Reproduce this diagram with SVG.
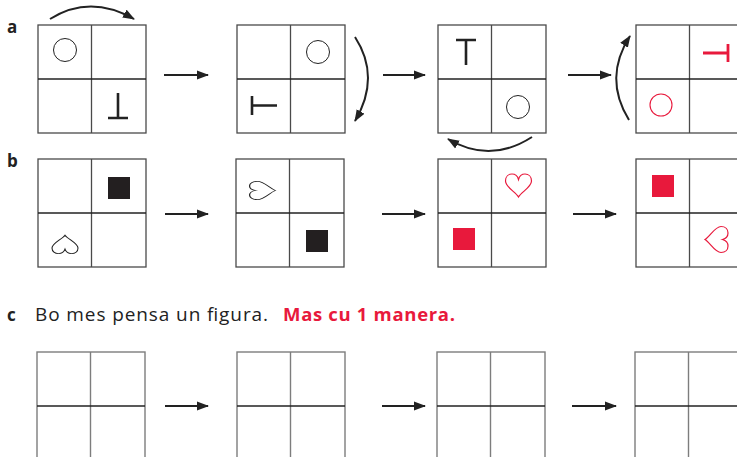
<svg xmlns="http://www.w3.org/2000/svg" xmlns:xlink="http://www.w3.org/1999/xlink" width="737" height="457" viewBox="0 0 737 457">
<style>
.g{fill:none;stroke:#4a4a4a;stroke-width:1.3}
.gm{fill:none;stroke:#222;stroke-width:1.3}
.gc{fill:none;stroke:#7d7d7d;stroke-width:1.4}
.ar{fill:none;stroke:#222;stroke-width:2}
.fig{fill:none;stroke:#222;stroke-width:2.6;stroke-linecap:butt}
.figr{fill:none;stroke:#e8193c;stroke-width:2.8}
.circ{fill:none;stroke:#222;stroke-width:1}
.circr{fill:none;stroke:#e8193c;stroke-width:1.1}
.hk{fill:none;stroke:#222;stroke-width:1.1}
.hr{fill:none;stroke:#e8193c;stroke-width:1.2}
.lab{font-family:"Open Sans","Noto Sans","Liberation Sans",sans-serif;font-weight:bold;font-size:17px;fill:#222}
.txt{font-family:"Open Sans","Noto Sans","Liberation Sans",sans-serif;font-size:19px;fill:#222}
.red{font-family:"Open Sans","Noto Sans","Liberation Sans",sans-serif;font-weight:bold;font-size:18.5px;fill:#e8193c}
</style>
<defs>
<g id="grid">
<rect class="g" x="0" y="0" width="108" height="108"/>
<line class="g" x1="53.5" y1="0" x2="53.5" y2="108"/>
<line class="gm" x1="0" y1="54" x2="108" y2="54"/>
</g>
<g id="gridc">
<rect class="gc" x="0" y="0" width="108" height="120"/>
<line class="gc" x1="53.5" y1="0" x2="53.5" y2="120"/>
<line class="gm" x1="0" y1="54" x2="108" y2="54"/>
</g>
<path id="heart" d="M0,11 C-3,6 -13,1 -13,-5 C-13,-9.5 -10,-12 -6.5,-12 C-3,-12 -0.8,-9.5 0,-6.5 C0.8,-9.5 3,-12 6.5,-12 C10,-12 13,-9.5 13,-5 C13,1 3,6 0,11 Z"/>
<marker id="ah" markerUnits="userSpaceOnUse" markerWidth="12" markerHeight="10" refX="11" refY="4.5" orient="auto" viewBox="0 0 12 9">
<path d="M0,0 L12,4.5 L0,9 Z" fill="#222"/>
</marker>
</defs>

<text class="lab" x="7" y="33">a</text>
<text class="lab" x="7" y="167">b</text>
<text class="lab" x="7" y="321">c</text>
<text class="txt" x="35" y="321" textLength="233" lengthAdjust="spacing">Bo mes pensa un figura.</text>
<text class="red" x="283" y="321" textLength="172" lengthAdjust="spacing">Mas cu 1 manera.</text>

<g id="a1">
<use xlink:href="#grid" x="38" y="25"/>
<circle class="circ" cx="65" cy="50" r="11.5"/>
<path class="fig" d="M118,93 V118 M108,118 H128"/>
</g>
<g id="a2">
<use xlink:href="#grid" x="237" y="25"/>
<circle class="circ" cx="318" cy="52" r="11.5"/>
<path class="fig" d="M252,96 V115 M252,105.5 H277"/>
</g>
<g id="a3">
<use xlink:href="#grid" x="438" y="25"/>
<path class="fig" d="M456,40 H476 M466,40 V65"/>
<circle class="circ" cx="518" cy="107" r="11.5"/>
</g>
<g id="a4">
<use xlink:href="#grid" x="636" y="25"/>
<path class="figr" d="M703,53 H728 M728,44 V62"/>
<circle class="circr" cx="661" cy="105" r="11"/>
</g>

<g id="b1">
<use xlink:href="#grid" x="38" y="159"/>
<rect x="108" y="177" width="22" height="22" fill="#231f20"/>
<use xlink:href="#heart" class="hk" transform="translate(65,244) scale(1,0.8) rotate(180)"/>
</g>
<g id="b2">
<use xlink:href="#grid" x="236" y="159"/>
<use xlink:href="#heart" class="hk" transform="translate(263,190.5) scale(1.12,0.7) rotate(-90)"/>
<rect x="306" y="230" width="22" height="22" fill="#231f20"/>
</g>
<g id="b3">
<use xlink:href="#grid" x="438" y="159"/>
<use xlink:href="#heart" class="hr" transform="translate(518.5,186)"/>
<rect x="453" y="228" width="22" height="22" fill="#e8193c"/>
</g>
<g id="b4">
<use xlink:href="#grid" x="636" y="159"/>
<rect x="652" y="175" width="22" height="22" fill="#e8193c"/>
<use xlink:href="#heart" class="hr" transform="translate(716,239.5) rotate(90)"/>
</g>

<g id="c1"><use xlink:href="#gridc" x="37" y="352"/></g>
<g id="c2"><use xlink:href="#gridc" x="237" y="352"/></g>
<g id="c3"><use xlink:href="#gridc" x="437" y="352"/></g>
<g id="c4"><use xlink:href="#gridc" x="635" y="352"/></g>

<g id="connectors">
<line class="ar" x1="164" y1="75" x2="208" y2="75" marker-end="url(#ah)"/>
<line class="ar" x1="383" y1="75" x2="425" y2="75" marker-end="url(#ah)"/>
<line class="ar" x1="568" y1="75" x2="611" y2="75" marker-end="url(#ah)"/>
<line class="ar" x1="165" y1="214" x2="208" y2="214" marker-end="url(#ah)"/>
<line class="ar" x1="382" y1="214" x2="425" y2="214" marker-end="url(#ah)"/>
<line class="ar" x1="573" y1="214" x2="616" y2="214" marker-end="url(#ah)"/>
<line class="ar" x1="165" y1="406" x2="208" y2="406" marker-end="url(#ah)"/>
<line class="ar" x1="382" y1="406" x2="425" y2="406" marker-end="url(#ah)"/>
<line class="ar" x1="572" y1="406" x2="616" y2="406" marker-end="url(#ah)"/>
<path class="ar" d="M50,19 Q90,-6 134,19" marker-end="url(#ah)"/>
<path class="ar" d="M355,37 Q381,77 355,121" marker-end="url(#ah)"/>
<path class="ar" d="M532,137 Q490,164 448,139" marker-end="url(#ah)"/>
<path class="ar" d="M629,120 Q603,78 630,36" marker-end="url(#ah)"/>
</g>
</svg>
